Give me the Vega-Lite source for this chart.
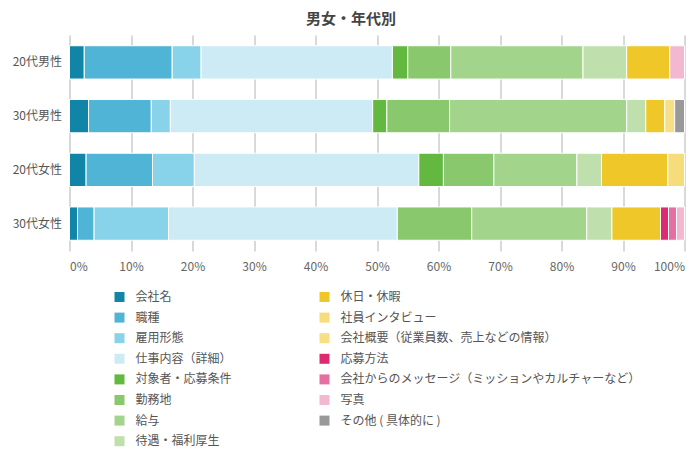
{
  "$schema": "https://vega.github.io/schema/vega-lite/v6.json",
  "width": 615,
  "height": 216,
  "autosize": {"type": "none"},
  "padding": {"left": 69.5, "top": 35, "right": 15.5, "bottom": 200},
  "background": "#ffffff",
  "title": {
    "text": "男女・年代別",
    "anchor": "middle",
    "frame": "group",
    "dx": -26,
    "offset": 8,
    "fontSize": 15,
    "fontWeight": "bold",
    "color": "#444444",
    "font": "Noto Sans CJK JP"
  },
  "data": {
    "values": [
      {"group": "20代男性", "item": "会社名", "ord": 1, "value": 2.4},
      {"group": "20代男性", "item": "職種", "ord": 2, "value": 14.3},
      {"group": "20代男性", "item": "雇用形態", "ord": 3, "value": 4.7},
      {"group": "20代男性", "item": "仕事内容（詳細）", "ord": 4, "value": 31.1},
      {"group": "20代男性", "item": "対象者・応募条件", "ord": 5, "value": 2.5},
      {"group": "20代男性", "item": "勤務地", "ord": 6, "value": 7.0},
      {"group": "20代男性", "item": "給与", "ord": 7, "value": 21.5},
      {"group": "20代男性", "item": "待遇・福利厚生", "ord": 8, "value": 7.1},
      {"group": "20代男性", "item": "休日・休暇", "ord": 9, "value": 7.0},
      {"group": "20代男性", "item": "写真", "ord": 14, "value": 2.4},

      {"group": "30代男性", "item": "会社名", "ord": 1, "value": 3.1},
      {"group": "30代男性", "item": "職種", "ord": 2, "value": 10.2},
      {"group": "30代男性", "item": "雇用形態", "ord": 3, "value": 3.1},
      {"group": "30代男性", "item": "仕事内容（詳細）", "ord": 4, "value": 32.9},
      {"group": "30代男性", "item": "対象者・応募条件", "ord": 5, "value": 2.3},
      {"group": "30代男性", "item": "勤務地", "ord": 6, "value": 10.2},
      {"group": "30代男性", "item": "給与", "ord": 7, "value": 28.8},
      {"group": "30代男性", "item": "待遇・福利厚生", "ord": 8, "value": 3.1},
      {"group": "30代男性", "item": "休日・休暇", "ord": 9, "value": 3.1},
      {"group": "30代男性", "item": "会社概要（従業員数、売上などの情報）", "ord": 11, "value": 1.6},
      {"group": "30代男性", "item": "その他 ( 具体的に )", "ord": 15, "value": 1.6},

      {"group": "20代女性", "item": "会社名", "ord": 1, "value": 2.7},
      {"group": "20代女性", "item": "職種", "ord": 2, "value": 10.8},
      {"group": "20代女性", "item": "雇用形態", "ord": 3, "value": 6.8},
      {"group": "20代女性", "item": "仕事内容（詳細）", "ord": 4, "value": 36.5},
      {"group": "20代女性", "item": "対象者・応募条件", "ord": 5, "value": 4.0},
      {"group": "20代女性", "item": "勤務地", "ord": 6, "value": 8.2},
      {"group": "20代女性", "item": "給与", "ord": 7, "value": 13.5},
      {"group": "20代女性", "item": "待遇・福利厚生", "ord": 8, "value": 4.0},
      {"group": "20代女性", "item": "休日・休暇", "ord": 9, "value": 10.8},
      {"group": "20代女性", "item": "社員インタビュー", "ord": 10, "value": 2.7},

      {"group": "30代女性", "item": "会社名", "ord": 1, "value": 1.3},
      {"group": "30代女性", "item": "職種", "ord": 2, "value": 2.7},
      {"group": "30代女性", "item": "雇用形態", "ord": 3, "value": 12.1},
      {"group": "30代女性", "item": "仕事内容（詳細）", "ord": 4, "value": 37.2},
      {"group": "30代女性", "item": "勤務地", "ord": 6, "value": 12.1},
      {"group": "30代女性", "item": "給与", "ord": 7, "value": 18.7},
      {"group": "30代女性", "item": "待遇・福利厚生", "ord": 8, "value": 4.1},
      {"group": "30代女性", "item": "休日・休暇", "ord": 9, "value": 7.9},
      {"group": "30代女性", "item": "応募方法", "ord": 12, "value": 1.3},
      {"group": "30代女性", "item": "会社からのメッセージ（ミッションやカルチャーなど）", "ord": 13, "value": 1.3},
      {"group": "30代女性", "item": "写真", "ord": 14, "value": 1.3}
    ]
  },
  "mark": {"type": "bar", "stroke": "#ffffff", "strokeWidth": 1},
  "encoding": {
    "y": {
      "field": "group",
      "type": "nominal",
      "sort": ["20代男性", "30代男性", "20代女性", "30代女性"],
      "scale": {"paddingInner": 0.38, "paddingOuter": 0.2},
      "axis": {
        "title": null,
        "domain": false,
        "ticks": false,
        "labelPadding": 8,
        "labelFontSize": 12,
        "labelColor": "#555555",
        "labelFont": "Noto Sans CJK JP"
      }
    },
    "x": {
      "field": "value",
      "type": "quantitative",
      "stack": "zero",
      "scale": {"domain": [0, 100], "nice": false},
      "axis": {
        "title": null,
        "values": [0, 10, 20, 30, 40, 50, 60, 70, 80, 90, 100],
        "labelExpr": "datum.value + '%'",
        "domain": false,
        "ticks": false,
        "grid": true,
        "gridColor": "#cccccc",
        "gridWidth": 1.5,
        "labelPadding": 10,
        "labelFontSize": 12,
        "labelColor": "#666666",
        "labelFont": "Noto Sans CJK JP"
      }
    },
    "order": {"field": "ord", "type": "quantitative", "sort": "ascending"},
    "color": {
      "field": "item",
      "type": "nominal",
      "scale": {
        "domain": [
          "会社名", "職種", "雇用形態", "仕事内容（詳細）",
          "対象者・応募条件", "勤務地", "給与", "待遇・福利厚生",
          "休日・休暇", "社員インタビュー", "会社概要（従業員数、売上などの情報）",
          "応募方法", "会社からのメッセージ（ミッションやカルチャーなど）",
          "写真", "その他 ( 具体的に )"
        ],
        "range": [
          "#1185a8", "#50b4d6", "#88d2ea", "#cdebf5",
          "#63b83f", "#8ac86d", "#a2d58b", "#bfe0ad",
          "#f0c728", "#f6dc7a", "#f7df85",
          "#dc2b70", "#e56fa0", "#f3b8d0", "#999999"
        ]
      },
      "legend": {
        "title": null,
        "orient": "none",
        "legendX": 44,
        "legendY": 256,
        "columns": 2,
        "columnPadding": 86,
        "rowPadding": 8.6,
        "symbolType": "square",
        "symbolSize": 100,
        "symbolStrokeWidth": 0,
        "labelOffset": 10,
        "labelFontSize": 12,
        "labelColor": "#555555",
        "labelFont": "Noto Sans CJK JP",
        "labelLimit": 400
      }
    }
  },
  "config": {
    "view": {"stroke": null}
  }
}
